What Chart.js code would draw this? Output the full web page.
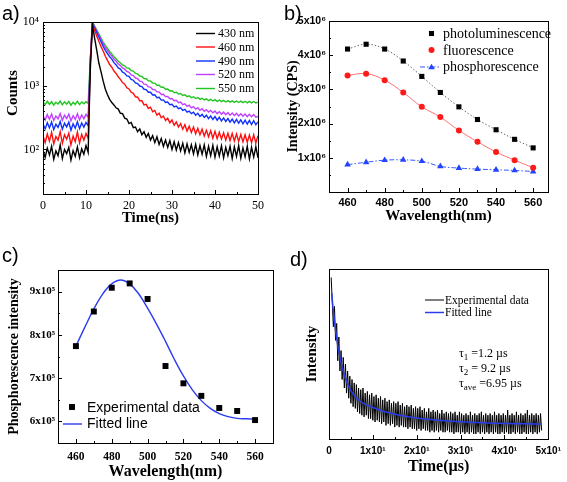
<!DOCTYPE html>
<html><head><meta charset="utf-8">
<script src="https://cdn.jsdelivr.net/npm/chart.js@4.4.1/dist/chart.umd.min.js"></script>
<style>
html,body{margin:0;padding:0;background:#fff;}
#wrap{position:relative;width:567px;height:482px;overflow:hidden;background:#fff;}
canvas{position:absolute;}
.pl{position:absolute;font-family:"Liberation Sans",Arial,sans-serif;font-size:20px;line-height:20px;color:#000;}
.tau{position:absolute;font-family:"Liberation Serif","Times New Roman",serif;font-size:12px;line-height:15px;color:#000;white-space:nowrap;}
.tau sub{font-size:9px;vertical-align:-3px;line-height:0;}
.frame{position:absolute;border:1px solid #000;pointer-events:none;box-sizing:border-box;z-index:5;}
.tk{position:absolute;background:#000;pointer-events:none;z-index:5;}
</style></head><body>
<div id="wrap">
<canvas id="ca" width="283" height="230" style="left:0;top:0"></canvas>
<canvas id="cb" width="284" height="230" style="left:283px;top:0"></canvas>
<canvas id="cc" width="283" height="252" style="left:0;top:230px"></canvas>
<canvas id="cd" width="284" height="252" style="left:283px;top:230px"></canvas>
<div class="pl" style="left:2px;top:3px">a)</div>
<div class="pl" style="left:284px;top:3px">b)</div>
<div class="pl" style="left:2px;top:245px">c)</div>
<div class="pl" style="left:290px;top:249px">d)</div>
<div class="tau" style="left:459px;top:346px">τ<sub>1</sub> =1.2 µs<br>τ<sub>2</sub> = 9.2 µs<br>τ<sub>ave</sub> =6.95 µs</div>
</div>
<script>
// ---------- Panel a: decay curves ----------
const timeA = [0,0.5,1,1.5,2,2.5,3,3.5,4,4.5,5,5.5,6,6.5,7,7.5,8,8.5,9,9.5,10,10.5,11,11.5,12,12.5,13,13.5,14,14.5,15,15.5,16,16.5,17,17.5,18,18.5,19,19.5,20,20.5,21,21.5,22,22.5,23,23.5,24,24.5,25,25.5,26,26.5,27,27.5,28,28.5,29,29.5,30,30.5,31,31.5,32,32.5,33,33.5,34,34.5,35,35.5,36,36.5,37,37.5,38,38.5,39,39.5,40,40.5,41,41.5,42,42.5,43,43.5,44,44.5,45,45.5,46,46.5,47,47.5,48,48.5,49,49.5,50];
const labelsA = ['430 nm','460 nm','490 nm','520 nm','550 nm'];
const counts430 = [98,75,105,82,112,70,95,80,118,72,100,86,108,68,96,78,110,74,102,84,115,90,1800,9000,
5600,3600,2250,1650,1180,880,720,610,545,500,
450,430,370,365,310,300,255,265,220,225,
190,210,170,190,155,178,140,165,128,158,
120,148,112,140,108,138,100,132,98,128,
95,125,88,122,90,118,85,120,82,115,
84,118,78,112,80,116,76,110,79,114,
74,108,80,112,72,110,78,115,73,106,
77,112,71,108,76,110,74];
const counts460 = [165,128,175,135,185,122,160,140,190,125,170,145,180,118,162,132,188,126,172,140,178,150,2200,9500,
7400,6000,5000,4100,3500,2900,2500,2150,1950,1700,
1560,1380,1260,1120,1060,930,890,790,760,670,
660,580,580,500,510,440,460,390,410,345,
370,315,335,285,310,262,290,240,270,225,
255,208,245,195,232,185,225,176,215,170,
208,162,200,158,196,150,192,148,186,146,
182,140,180,138,178,136,175,134,172,132,
170,130,168,128,170,126,165];
const counts490 = [250,210,262,218,270,205,248,222,275,208,258,226,268,200,252,215,272,212,260,224,265,235,2400,9800,
8000,6800,5800,4900,4150,3600,3200,2850,2620,2300,
2120,1900,1820,1630,1570,1430,1400,1260,1220,1110,
1080,990,970,880,870,790,790,715,720,650,
660,595,600,545,555,505,510,465,480,435,
450,410,425,385,400,365,385,345,370,330,
355,318,345,305,335,295,328,288,320,280,
312,275,305,268,300,262,296,258,292,252,
288,250,285,246,282,244,270];
const counts520 = [340,290,352,298,360,285,335,302,365,288,345,305,358,282,338,296,362,292,348,304,355,320,2500,9900,
8400,7200,6200,5300,4550,3980,3550,3200,2920,2620,
2420,2200,2080,1900,1820,1680,1620,1480,1440,1320,
1290,1180,1160,1060,1050,960,950,870,870,800,
800,730,735,675,680,625,630,580,590,540,
555,505,520,475,495,450,470,430,452,412,
436,396,422,385,410,375,400,365,392,358,
385,350,378,345,372,340,368,336,364,332,
360,328,356,325,352,322,330];
const counts550 = [555,505,570,512,560,498,550,518,575,502,558,515,565,495,548,510,572,506,556,520,562,530,2600,10000,
8600,7500,6500,5600,4850,4300,3850,3450,3150,2850,
2650,2420,2300,2120,2060,1900,1880,1720,1700,1560,
1540,1420,1400,1300,1290,1190,1190,1100,1100,1020,
1020,945,950,880,890,825,835,780,790,740,
755,705,720,675,695,650,672,630,652,612,
636,598,624,585,612,576,604,568,596,562,
590,556,585,552,580,548,576,545,573,542,
570,540,568,538,566,536,555];
const colorsA = ['#000000','#ff1010','#1030ff','#c040ff','#22c422'];
const xTicksA = [0,10,20,30,40,50];
const xMinorA = [5,15,25,35,45];
const yTicksA = [100,1000,10000];
const yTickLabelsA = ['10²','10³','10⁴'];
const yMinorA = [20,30,40,50,60,70,80,90,200,300,400,500,600,700,800,900,2000,3000,4000,5000,6000,7000,8000,9000];

// ---------- Panel b: intensity vs wavelength ----------
const wlB = [460,470,480,490,500,510,520,530,540,550,560];
const photoB = [4.18e6,4.32e6,4.18e6,3.83e6,3.38e6,2.91e6,2.49e6,2.12e6,1.82e6,1.54e6,1.29e6];
const fluorB = [3.41e6,3.46e6,3.27e6,2.91e6,2.49e6,2.19e6,1.80e6,1.47e6,1.17e6,0.93e6,0.71e6];
const phosB  = [0.80e6,0.87e6,0.93e6,0.94e6,0.90e6,0.75e6,0.70e6,0.67e6,0.65e6,0.63e6,0.60e6];
const xTicksB = [460,480,500,520,540,560];
const xMinorB = [470,490,510,530,550];
const yTicksB = [1e6,2e6,3e6,4e6,5e6];
const yTickLabelsB = ['1x10⁶','2x10⁶','3x10⁶','4x10⁶','5x10⁶'];
const yMinorB = [0.5e6,1.5e6,2.5e6,3.5e6,4.5e6];

// ---------- Panel c: phosphorescence fit ----------
const wlC = [460,470,480,490,500,510,520,530,540,550,560];
const phosC = [7.74e5,8.54e5,9.09e5,9.19e5,8.83e5,7.28e5,6.88e5,6.59e5,6.31e5,6.24e5,6.03e5];
const fitWlC = [460,465,470,475,480,485,490,495,500,505,510,515,520,525,530,535,540,545,550,555,560];
const fitC = [7.74e5,8.18e5,8.60e5,8.95e5,9.18e5,9.27e5,9.18e5,8.95e5,8.62e5,8.25e5,7.85e5,7.43e5,7.05e5,6.73e5,6.48e5,6.30e5,6.18e5,6.11e5,6.07e5,6.06e5,6.05e5];
const xTicksC = [460,480,500,520,540,560];
const xMinorC = [470,490,510,530,550];
const yTicksC = [6e5,7e5,8e5,9e5];
const yTickLabelsC = ['6x10⁵','7x10⁵','8x10⁵','9x10⁵'];
const yMinorC = [5.5e5,6.5e5,7.5e5,8.5e5,9.5e5];

// ---------- Panel d: phosphorescence decay ----------
const timeD = [0.5,0.75,1,1.25,1.5,1.75,2,2.25,2.5,2.75,3,
3.25,3.5,3.75,4,4.25,4.5,4.75,5,5.25,5.5,5.75,6,6.25,6.5,6.75,7,
7.25,7.5,7.75,8,8.25,8.5,8.75,9,9.25,9.5,9.75,10,10.25,10.5,10.75,11,
11.25,11.5,11.75,12,12.25,12.5,12.75,13,13.25,13.5,13.75,14,14.25,14.5,14.75,15,
15.25,15.5,15.75,16,16.25,16.5,16.75,17,17.25,17.5,17.75,18,18.25,18.5,18.75,19,
19.25,19.5,19.75,20,20.25,20.5,20.75,21,21.25,21.5,21.75,22,22.25,22.5,22.75,23,
23.25,23.5,23.75,24,24.25,24.5,24.75,25,25.25,25.5,25.75,26,26.25,26.5,26.75,27,
27.25,27.5,27.75,28,28.25,28.5,28.75,29,29.25,29.5,29.75,30,30.25,30.5,30.75,31,
31.25,31.5,31.75,32,32.25,32.5,32.75,33,33.25,33.5,33.75,34,34.25,34.5,34.75,35,
35.25,35.5,35.75,36,36.25,36.5,36.75,37,37.25,37.5,37.75,38,38.25,38.5,38.75,39,
39.25,39.5,39.75,40,40.25,40.5,40.75,41,41.25,41.5,41.75,42,42.25,42.5,42.75,43,
43.25,43.5,43.75,44,44.25,44.5,44.75,45,45.25,45.5,45.75,46,46.25,46.5,46.75,47,
47.25,47.5,47.75,48,48.25,48.5];
const intensD = [95,80,66,78,58,68,46,60,40,52,35,
48,30,44,27,40,24,37,21,35,19,33,18,32,16,30,15,
29,14,30,13,27,14,28,12,26,12,27,11,25,10,26,11,
24,10,25,9,23,10,24,8,22,9,23,8,21,9,22,7,
21,8,22,7,20,8,21,7,19,7,20,6,19,7,20,6,
18,6,19,5,18,6,19,5,17,6,18,5,16,5,18,4,
16,5,17,4,16,5,17,4,15,5,17,4,15,4,16,5,
15,4,16,4,15,3,16,4,14,4,16,3,15,4,14,3,
15,4,14,3,16,4,14,3,15,3,14,4,15,3,16,4,
14,3,15,4,14,3,15,4,14,3,16,4,14,3,15,3,
14,4,15,3,14,4,17,3,14,3,15,4,14,3,16,4,
14,3,15,3,14,4,15,3,17,3,14,4,15,3,14,4,
15,3,14,4,15,5];
const fitTimeD = [0.6,1,1.5,2,2.5,3,4,5,6,7,8,10,12,15,20,25,30,35,40,45,48.5];
const fitD = [86,75,64,55,48,42,34,28.5,25,22.5,20.8,18.5,16.6,14.6,12.3,11,10.1,9.5,9.1,8.9,8.8];
const xTicksD = [0,10,20,30,40,50];
const xTickLabelsD = ['0','1x10¹','2x10¹','3x10¹','4x10¹','5x10¹'];
const xMinorD = [5,15,25,35,45];

// ---------- helpers ----------
const SERIF = '"Liberation Serif","Times New Roman",serif';
const SANS = '"Liberation Sans",Arial,sans-serif';
Chart.defaults.color = '#000';
const LEGENDS = {};
const pts = (xs, ys) => xs.map((x, i) => ({x: x, y: ys[i]}));
const setTicks = vals => s => { s.ticks = vals.map(v => ({value: v})); };

function drawMarker(ctx, style, r, x, y, color){
  ctx.save(); ctx.fillStyle = color; ctx.beginPath();
  if (style === 'rect'){ const h = r*Math.SQRT1_2; ctx.rect(x-h, y-h, 2*h, 2*h); }
  else if (style === 'triangle'){ for (let k=0;k<3;k++){ const ang = -Math.PI/2 + k*2*Math.PI/3; const px = x+Math.cos(ang)*r, py = y+Math.sin(ang)*r+r*0.25; if(k===0) ctx.moveTo(px,py); else ctx.lineTo(px,py);} ctx.closePath(); }
  else { ctx.arc(x, y, r, 0, Math.PI*2); }
  ctx.fill(); ctx.restore();
}
Chart.register({
  id: 'boxLegend',
  afterDraw(chart){
    const L = LEGENDS[chart.canvas.id]; if (!L) return;
    const ctx = chart.ctx, a = chart.chartArea;
    // frame as filled strips along the chart area edges
    ctx.save(); ctx.fillStyle = '#000';
    const l = Math.round(a.left), t = Math.round(a.top), r = Math.round(a.right), b = Math.round(a.bottom);
    ctx.fillRect(l, t, r - l + 1, 1); ctx.fillRect(l, b, r - l + 1, 1);
    ctx.fillRect(l, t, 1, b - t + 1); ctx.fillRect(r, t, 1, b - t + 1);
    ctx.restore();
    ctx.save(); ctx.font = L.font; ctx.textBaseline = 'middle'; ctx.textAlign = 'left';
    L.items.forEach((it, i) => {
      const ds = chart.data.datasets[it.ds], y = L.rows[i];
      if (it.line){ ctx.save(); ctx.strokeStyle = ds.borderColor; ctx.lineWidth = ds.borderWidth || 1; ctx.setLineDash(ds.borderDash || []); ctx.beginPath(); ctx.moveTo(L.x0, y+0.5); ctx.lineTo(L.x1, y+0.5); ctx.stroke(); ctx.restore(); }
      if (it.marker) drawMarker(ctx, ds.pointStyle, ds.pointRadius, L.mx, y, ds.pointBackgroundColor);
      ctx.fillStyle = '#000';
      ctx.fillText(ds.label, L.tx, y+1);
    });
    ctx.restore();
  }
});

// frame box and inward tick marks, placed from the chart's own area and scales
function decorate(chart, ox, oy, t){
  const wrap = document.getElementById('wrap'), a = chart.chartArea;
  const L = Math.round(a.left), T = Math.round(a.top), R = Math.round(a.right), B = Math.round(a.bottom);
  const add = (cls, x, y, w, h) => { const d = document.createElement('div'); d.className = cls;
    d.style.left = x + 'px'; d.style.top = y + 'px'; d.style.width = w + 'px'; d.style.height = h + 'px'; wrap.appendChild(d); };
  const xs = chart.scales.x, ys = chart.scales.y;
  (t.xMajor || []).forEach(v => add('tk', ox + Math.round(xs.getPixelForValue(v)), oy + B - 4, 1, 4));
  (t.xMinor || []).forEach(v => add('tk', ox + Math.round(xs.getPixelForValue(v)), oy + B - 2, 1, 2));
  (t.yMajor || []).forEach(v => add('tk', ox + L, oy + Math.round(ys.getPixelForValue(v)), 4, 1));
  (t.yMinor || []).forEach(v => add('tk', ox + L, oy + Math.round(ys.getPixelForValue(v)), 2, 1));
  add('frame', ox + L, oy + T, R - L + 1, B - T + 1);
}

const base = (pad) => ({
  responsive: false, animation: false, devicePixelRatio: 1, events: [],
  layout: {padding: pad},
  plugins: {legend: {display: false}, tooltip: {enabled: false}}
});
function axis(o){ return Object.assign({grid: {display: false, drawTicks: false}, border: {display: true, color: '#000', width: 1}}, o); }

// ---------- Chart a ----------
LEGENDS.ca = {font: '12px ' + SERIF, x0: 196, x1: 215, tx: 218, rows: [33, 46.5, 60.5, 74, 88],
  items: [0,1,2,3,4].map(i => ({ds: i, line: true}))};
const chartA = new Chart(document.getElementById('ca'), {
  type: 'line',
  data: {datasets: [counts430, counts460, counts490, counts520, counts550].map((arr, i) => ({
    label: labelsA[i], data: pts(timeA, arr), borderColor: colorsA[i], borderWidth: 1.4, pointRadius: 0, tension: 0
  }))},
  options: Object.assign(base({left: 4, top: 22, right: 25, bottom: 0}), {
    scales: {
      x: axis({type: 'linear', min: 0, max: 50, afterBuildTicks: setTicks(xTicksA), afterFit: s => { s.height = 36; },
        ticks: {font: {family: SERIF, size: 12}, color: '#000', padding: 5, maxRotation: 0, autoSkip: false},
        title: {display: true, text: 'Time(ns)', font: {family: SERIF, size: 15, weight: 'bold'}, color: '#000', padding: {top: 0, bottom: 3}}}),
      y: axis({type: 'logarithmic', min: 20, max: 10000, afterBuildTicks: setTicks(yTicksA), afterFit: s => { s.width = 39; },
        ticks: {font: {family: SERIF, size: 12}, color: '#000', padding: 4, autoSkip: false, callback: (v, i) => yTickLabelsA[i]},
        title: {display: true, text: '\u00a0\u00a0\u00a0\u00a0\u00a0\u00a0\u00a0\u00a0Counts', font: {family: SERIF, size: 15, weight: 'bold'}, color: '#000', padding: {top: 0, bottom: 0}}})
    }
  })
});
decorate(chartA, 0, 0, {xMajor: xTicksA, xMinor: xMinorA, yMajor: yTicksA, yMinor: yMinorA});

// ---------- Chart b ----------
LEGENDS.cb = {font: '14px ' + SERIF, x0: 137, x1: 156, mx: 148.5, tx: 160, rows: [33.5, 50, 66.5],
  items: [{ds: 0, marker: true}, {ds: 1, marker: true}, {ds: 2, line: true, marker: true}]};
const chartB = new Chart(document.getElementById('cb'), {
  type: 'line',
  data: {datasets: [
    {label: 'photoluminescence', data: pts(wlB, photoB), borderColor: '#666666', borderDash: [1.5, 2], borderWidth: 1, tension: 0.4,
      pointStyle: 'rect', pointRadius: 3.6, pointBackgroundColor: '#000', pointBorderWidth: 0},
    {label: 'fluorescence', data: pts(wlB, fluorB), borderColor: '#ff7070', borderWidth: 1, tension: 0.4,
      pointStyle: 'circle', pointRadius: 3, pointBackgroundColor: '#ff1a1a', pointBorderWidth: 0},
    {label: 'phosphorescence', data: pts(wlB, phosB), borderColor: '#3355ff', borderDash: [5, 2, 1.5, 2], borderWidth: 1, tension: 0.4,
      pointStyle: 'triangle', pointRadius: 3.8, pointBackgroundColor: '#2244ff', pointBorderWidth: 0}
  ]},
  options: Object.assign(base({left: 2, top: 21, right: 19, bottom: 0}), {
    scales: {
      x: axis({type: 'linear', min: 450, max: 568, afterBuildTicks: setTicks(xTicksB), afterFit: s => { s.height = 38; },
        ticks: {font: {family: SANS, size: 11, weight: 'bold'}, color: '#000', padding: 4, maxRotation: 0, autoSkip: false},
        title: {display: true, text: 'Wavelength(nm)', font: {family: SERIF, size: 15, weight: 'bold'}, color: '#000', padding: {top: 0, bottom: 5}}}),
      y: axis({type: 'linear', min: 0, max: 5e6, afterBuildTicks: setTicks(yTicksB), afterFit: s => { s.width = 44; },
        ticks: {font: {family: SANS, size: 10.5, weight: 'bold'}, color: '#000', padding: 3, autoSkip: false, callback: (v, i) => yTickLabelsB[i]},
        title: {display: true, text: 'Intensity (CPS)', font: {family: SERIF, size: 14, weight: 'bold'}, color: '#000', padding: {top: 0, bottom: 0}}})
    }
  })
});
decorate(chartB, 283, 0, {xMajor: xTicksB, xMinor: xMinorB, yMajor: yTicksB, yMinor: yMinorB});

// ---------- Chart c ----------
LEGENDS.cc = {font: '14px ' + SANS, x0: 63, x1: 82, mx: 72, tx: 87, rows: [177, 193.5],
  items: [{ds: 0, marker: true}, {ds: 1, line: true}]};
const chartC = new Chart(document.getElementById('cc'), {
  type: 'line',
  data: {datasets: [
    {label: 'Experimental data', data: pts(wlC, phosC), showLine: false, pointStyle: 'rect', pointRadius: 4.2, pointBackgroundColor: '#000', pointBorderWidth: 0, borderColor: '#000', order: 0},
    {label: 'Fitted line', data: pts(fitWlC, fitC), borderColor: '#2a3cf0', borderWidth: 1.4, pointRadius: 0, tension: 0.4, order: 1}
  ]},
  options: Object.assign(base({left: 6, top: 40, right: 10, bottom: 0}), {
    scales: {
      x: axis({type: 'linear', min: 450, max: 570, afterBuildTicks: setTicks(xTicksC), afterFit: s => { s.height = 39; },
        ticks: {font: {family: SERIF, size: 11.5, weight: 'bold'}, color: '#000', padding: 7, maxRotation: 0, autoSkip: false},
        title: {display: true, text: 'Wavelength(nm)', font: {family: SERIF, size: 16, weight: 'bold'}, color: '#000', padding: {top: 0, bottom: 1}}}),
      y: axis({type: 'linear', min: 5.5e5, max: 9.5e5, afterBuildTicks: setTicks(yTicksC), afterFit: s => { s.width = 52; },
        ticks: {font: {family: SERIF, size: 11, weight: 'bold'}, color: '#000', padding: 3, autoSkip: false, callback: (v, i) => yTickLabelsC[i]},
        title: {display: true, text: 'Phosphorescence intensity', font: {family: SERIF, size: 14, weight: 'bold'}, color: '#000', padding: {top: 0, bottom: 0}}})
    }
  })
});
decorate(chartC, 0, 230, {xMajor: xTicksC, xMinor: xMinorC, yMajor: yTicksC, yMinor: yMinorC});

// ---------- Chart d ----------
LEGENDS.cd = {font: '11.5px ' + SERIF, x0: 142, x1: 161, tx: 162, rows: [69.5, 82],
  items: [{ds: 0, line: true}, {ds: 1, line: true}]};
const chartD = new Chart(document.getElementById('cd'), {
  type: 'line',
  data: {datasets: [
    {label: 'Experimental data', data: pts(timeD, intensD), borderColor: '#000', borderWidth: 1, pointRadius: 0, tension: 0, order: 1},
    {label: 'Fitted line', data: pts(fitTimeD, fitD), borderColor: '#2a3cf0', borderWidth: 1.5, pointRadius: 0, cubicInterpolationMode: 'monotone', order: 0}
  ]},
  options: Object.assign(base({left: 20, top: 39, right: 15, bottom: 0}), {
    scales: {
      x: axis({type: 'linear', min: 0, max: 50, afterBuildTicks: setTicks(xTicksD), afterFit: s => { s.height = 43; },
        ticks: {font: {family: SANS, size: 10, weight: 'bold'}, color: '#000', padding: 6, maxRotation: 0, autoSkip: false, callback: (v, i) => xTickLabelsD[i]},
        title: {display: true, text: 'Time(µs)', font: {family: SERIF, size: 16, weight: 'bold'}, color: '#000', padding: {top: 0, bottom: 6}}}),
      y: axis({type: 'linear', min: 0, max: 100, afterFit: s => { s.width = 26; },
        ticks: {display: false},
        title: {display: true, text: 'Intensity', font: {family: SERIF, size: 15, weight: 'bold'}, color: '#000', padding: {top: 0, bottom: 0}}})
    }
  })
});
decorate(chartD, 283, 230, {xMajor: xTicksD, xMinor: xMinorD});
</script>
</body></html>
